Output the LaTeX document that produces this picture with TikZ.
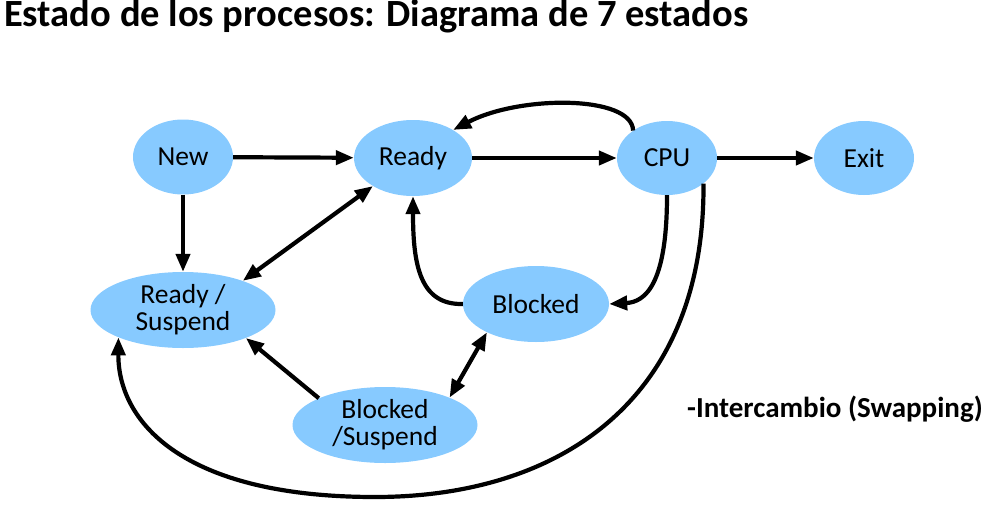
\documentclass[tikz,border=0pt]{standalone}
\usepackage{fontspec}
\setmainfont{Carlito}
\usetikzlibrary{arrows.meta,shapes.geometric}
\definecolor{stateblue}{RGB}{135,202,255}
\begin{document}
\begin{tikzpicture}[x=1pt,y=-1pt,
  state/.style={ellipse,fill=stateblue,inner sep=0pt,align=center,font=\fontsize{27.5}{27}\selectfont},
  arr/.style={line width=4.2pt,-{Triangle[length=18pt,width=14pt]}},
  darr/.style={line width=4.2pt,{Triangle[length=18pt,width=14pt]}-{Triangle[length=18pt,width=14pt]}}]
\useasboundingbox (0,0) rectangle (992,506);
% title
\node[anchor=base west,inner sep=0pt,font=\fontsize{38.5}{40}\selectfont\bfseries] (title) at (4,27) {Estado de los procesos: Diagrama de 7 estados};
% states
\node[state,minimum width=100pt,minimum height=75pt] (new) at (183,157) {New};
\node[state,minimum width=118pt,minimum height=76pt] (ready) at (413,158) {Ready};
\node[state,minimum width=100pt,minimum height=74pt] (cpu) at (667,158) {CPU};
\node[state,minimum width=100pt,minimum height=74pt] (exit) at (864,158) {Exit};
\node[state,minimum width=185pt,minimum height=76pt] (rs) at (183,310) {Ready /\\Suspend};
\node[state,minimum width=146pt,minimum height=76pt] (blocked) at (536,304) {Blocked};
\node[state,minimum width=185pt,minimum height=76pt] (bs) at (385,425) {Blocked\\/Suspend};
% label
\node[anchor=base west,inner sep=0pt,font=\fontsize{29}{30}\selectfont\bfseries] (swap) at (687,417) {-Intercambio (Swapping)};
% transitions
\draw[arr] (new) -- (ready);
\draw[arr] (ready) -- (cpu);
\draw[arr] (cpu) -- (exit);
\draw[arr] (cpu.141) .. controls (632,95) and (520,95) .. (ready.35);
\draw[arr] (new) -- (rs);
\draw[darr] (rs.26) -- (ready.215);
\draw[arr] (cpu.south) .. controls (667,285) and (645,302) .. (blocked.east);
\draw[arr] (blocked.west) .. controls (420,305) and (413,265) .. (ready.south);
\draw[arr] (bs.158) -- (rs.336);
\draw[darr] (bs.23) -- (blocked.210);
%swapping loop
\draw[arr] (cpu.-35) .. controls (705,400) and (560,497) .. (375,497) .. controls (180,497) and (118,420) .. (rs.203);
\end{tikzpicture}
\end{document}
